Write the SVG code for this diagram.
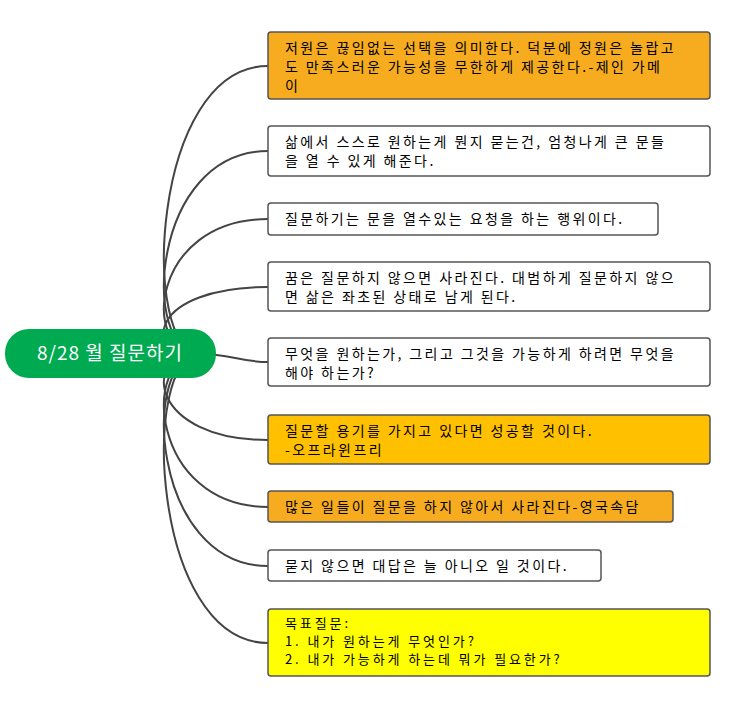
<svg xmlns="http://www.w3.org/2000/svg" width="730" height="709" viewBox="0 0 730 709">
<style>
.b{stroke:#555;stroke-width:1.5}
.t{font-family:"Noto Sans CJK KR","Liberation Sans",sans-serif;font-size:14px;fill:#000;letter-spacing:2.4px}
.s{font-size:13px;letter-spacing:2.9px}
.c{fill:none;stroke:#444;stroke-width:2}
</style>
<rect width="730" height="709" fill="#fff"/>
<g id="connectors">
<path class="c" d="M200 354 C140 354 150 66 268 66"/>
<path class="c" d="M200 354 C140 354 150 151 268 151"/>
<path class="c" d="M200 354 C140 354 150 219 268 219"/>
<path class="c" d="M200 354 C140 354 150 287 268 287"/>
<path class="c" d="M200 354 C230 354 240 362 268 362"/>
<path class="c" d="M200 354 C140 354 150 440 268 440"/>
<path class="c" d="M200 354 C140 354 150 507 268 507"/>
<path class="c" d="M200 354 C140 354 150 566 268 566"/>
<path class="c" d="M200 354 C140 354 150 643 268 643"/>
</g>
<g id="root"><rect x="5" y="329" width="211" height="49" rx="24" fill="#00AA50"/>
<text x="110" y="360" text-anchor="middle" style="font-family:'Noto Sans CJK KR','Liberation Sans',sans-serif;font-size:19px;fill:#fff;letter-spacing:1px">8/28 월 질문하기</text></g>
<g id="n1"><rect class="b" x="268" y="32" width="442" height="67" rx="3" fill="#F6AC1E"/>
<text class="t" x="285" y="53">저원은 끊임없는 선택을 의미한다. 덕분에 정원은 놀랍고</text>
<text class="t" x="285" y="72">도 만족스러운 가능성을 무한하게 제공한다.-제인 가메</text>
<text class="t" x="285" y="91">이</text></g>
<g id="n2"><rect class="b" x="268" y="126" width="442" height="50" rx="3" fill="#fff"/>
<text class="t" x="285" y="147">삶에서 스스로 원하는게 뭔지 묻는건, 엄청나게 큰 문들</text>
<text class="t" x="285" y="166">을 열 수 있게 해준다.</text></g>
<g id="n3"><rect class="b" x="268" y="203" width="390" height="32" rx="3" fill="#fff"/>
<text class="t" x="285" y="224">질문하기는 문을 열수있는 요청을 하는 행위이다.</text></g>
<g id="n4"><rect class="b" x="268" y="262" width="442" height="49" rx="3" fill="#fff"/>
<text class="t" x="285" y="283">꿈은 질문하지 않으면 사라진다. 대범하게 질문하지 않으</text>
<text class="t" x="285" y="302">면 삶은 좌초된 상태로 남게 된다.</text></g>
<g id="n5"><rect class="b" x="268" y="338" width="442" height="48" rx="3" fill="#fff"/>
<text class="t" x="285" y="359">무엇을 원하는가, 그리고 그것을 가능하게 하려면 무엇을</text>
<text class="t" x="285" y="378">해야 하는가?</text></g>
<g id="n6"><rect class="b" x="268" y="415" width="442" height="49" rx="3" fill="#FFC000"/>
<text class="t" x="285" y="436">질문할 용기를 가지고 있다면 성공할 것이다.</text>
<text class="t" x="285" y="455">-오프라윈프리</text></g>
<g id="n7"><rect class="b" x="268" y="491" width="405" height="31" rx="3" fill="#F6AC1E"/>
<text class="t" x="285" y="512">많은 일들이 질문을 하지 않아서 사라진다-영국속담</text></g>
<g id="n8"><rect class="b" x="268" y="550" width="333" height="31" rx="3" fill="#fff"/>
<text class="t" x="285" y="571">묻지 않으면 대답은 늘 아니오 일 것이다.</text></g>
<g id="n9"><rect class="b" x="268" y="609" width="442" height="67" rx="3" fill="#FFFF00"/>
<text class="t s" x="285" y="628">목표질문:</text>
<text class="t s" x="285" y="646">1. 내가 원하는게 무엇인가?</text>
<text class="t s" x="285" y="664">2. 내가 가능하게 하는데 뭐가 필요한가?</text></g>
</svg>
